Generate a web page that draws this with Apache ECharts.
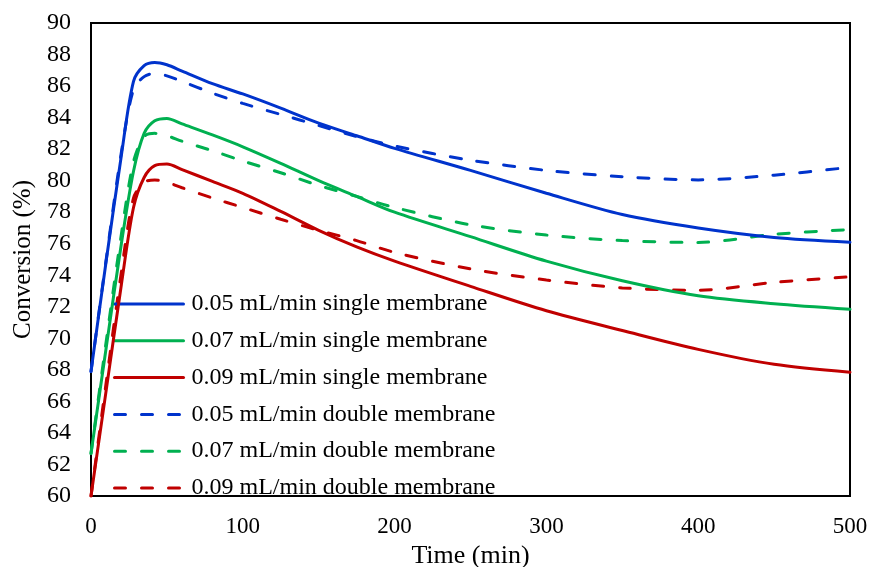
<!DOCTYPE html>
<html>
<head>
<meta charset="utf-8">
<script src="https://cdn.jsdelivr.net/npm/echarts@6/dist/echarts.min.js"></script>
<style>html,body{margin:0;padding:0;background:#fff}#c{width:870px;height:567px}</style>
</head>
<body>
<div id="c"></div>
<script>
var times = [0, 10, 20, 28, 35, 42, 50, 60, 80, 100, 125, 150, 175, 200, 250, 300, 350, 400, 450, 500];
var single005 = [67.9, 74.9, 81.6, 86.3, 87.3, 87.5, 87.35, 86.95, 86.15, 85.5, 84.6, 83.65, 82.85, 82.05, 80.65, 79.2, 77.85, 77.0, 76.4, 76.1];
var single007 = [62.7, 69.4, 76.0, 80.6, 83.0, 83.8, 83.95, 83.6, 82.9, 82.15, 81.1, 80.0, 79.0, 78.0, 76.45, 74.9, 73.65, 72.7, 72.2, 71.85];
var single009 = [60.0, 66.7, 73.4, 78.3, 80.2, 80.95, 81.05, 80.7, 79.95, 79.2, 78.05, 76.85, 75.8, 74.9, 73.3, 71.75, 70.5, 69.3, 68.35, 67.85];
var double005 = [67.9, 75.0, 81.8, 85.8, 86.6, 86.8, 86.65, 86.3, 85.55, 84.9, 84.2, 83.5, 82.8, 82.2, 81.3, 80.65, 80.25, 80.05, 80.35, 80.85];
var double007 = [62.7, 69.8, 76.6, 81.2, 82.8, 83.0, 82.85, 82.5, 81.9, 81.25, 80.5, 79.7, 79.0, 78.3, 77.2, 76.55, 76.2, 76.08, 76.6, 76.9];
var double009 = [60.0, 67.2, 74.2, 78.9, 79.9, 80.05, 79.9, 79.55, 78.9, 78.3, 77.55, 76.85, 76.2, 75.45, 74.4, 73.7, 73.2, 73.05, 73.55, 73.9];
var seriesNames = ['0.05 mL/min single membrane', '0.07 mL/min single membrane', '0.09 mL/min single membrane',
                   '0.05 mL/min double membrane', '0.07 mL/min double membrane', '0.09 mL/min double membrane'];
var xTicks = [0, 100, 200, 300, 400, 500];
var yTicks = [60, 62, 64, 66, 68, 70, 72, 74, 76, 78, 80, 82, 84, 86, 88, 90];

var allValues = [single005, single007, single009, double005, double007, double009];
var colors = ['#0033CC', '#00B050', '#C00000', '#0033CC', '#00B050', '#C00000'];
var font = '"Liberation Serif", "Times New Roman", serif';

function pairs(vals) { return times.map(function (t, i) { return [t, vals[i]]; }); }

var series = allValues.map(function (vals, i) {
  return {
    name: seriesNames[i],
    type: 'line',
    data: pairs(vals),
    showSymbol: false,
    symbol: 'none',
    smooth: 0.3,
    lineStyle: { color: colors[i], width: 3, type: i < 3 ? 'solid' : [11, 16], cap: 'round' },
    itemStyle: { color: colors[i] },
    z: 6 - i
  };
});

var chart = echarts.init(document.getElementById('c'), null, { renderer: 'canvas' });
chart.setOption({
  animation: false,
  backgroundColor: '#fff',
  grid: { left: 91, right: 20, top: 23, bottom: 71, outerBoundsMode: 'none', containLabel: false, show: true, borderColor: '#000', borderWidth: 2, backgroundColor: 'transparent' },
  legend: {
    orient: 'vertical',
    left: 108,
    top: 287,
    padding: 5,
    itemWidth: 69,
    itemHeight: 14,
    itemGap: 12.8,
    data: seriesNames,
    itemStyle: { opacity: 0 },
    lineStyle: { width: 3 },
    textStyle: { fontFamily: font, fontSize: 24, color: '#000', padding: [0, 0, 0, 3] }
  },
  xAxis: {
    type: 'value',
    min: xTicks[0], max: xTicks[xTicks.length - 1], interval: 100,
    name: 'Time (min)', nameLocation: 'middle', nameGap: 40,
    nameTextStyle: { fontFamily: font, fontSize: 26, color: '#000' },
    axisLine: { show: true, lineStyle: { color: '#000', width: 2 } },
    axisTick: { show: false },
    splitLine: { show: false },
    axisLabel: { fontFamily: font, fontSize: 23, color: '#000', margin: 19 }
  },
  yAxis: {
    type: 'value',
    min: yTicks[0], max: yTicks[yTicks.length - 1], interval: 2,
    name: 'Conversion (%)', nameLocation: 'middle', nameGap: 55, nameRotate: 90,
    nameTextStyle: { fontFamily: font, fontSize: 25, color: '#000' },
    axisLine: { show: true, lineStyle: { color: '#000', width: 2 } },
    axisTick: { show: false },
    splitLine: { show: false },
    axisLabel: { fontFamily: font, fontSize: 24, color: '#000', margin: 20 }
  },
  series: series
});
</script>
</body>
</html>
